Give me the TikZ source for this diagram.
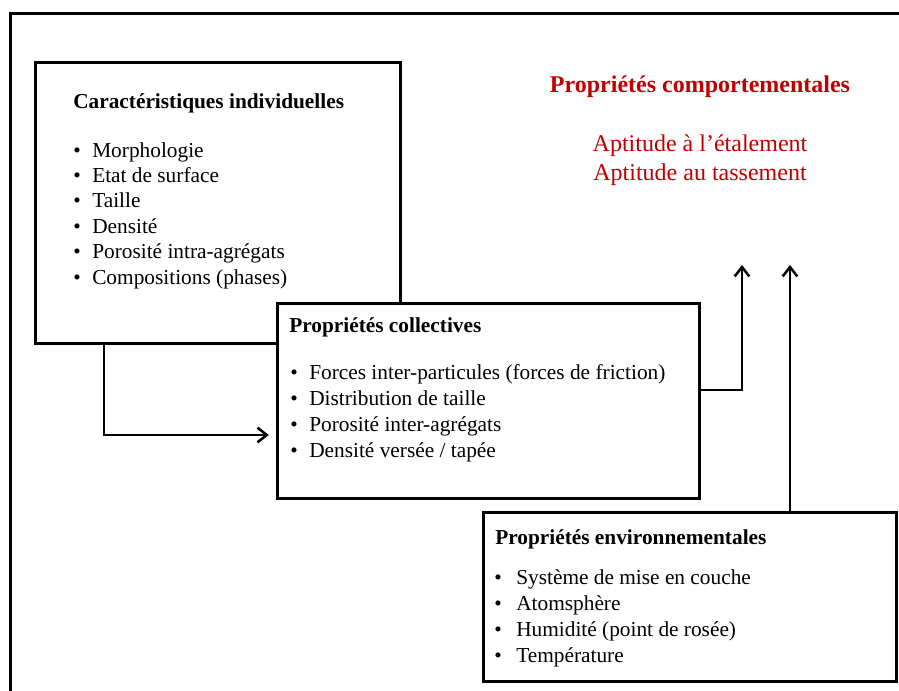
\documentclass[tikz,border=0pt]{standalone}
\usepackage{fontspec}
\setmainfont{Liberation Serif}
\usetikzlibrary{arrows.meta}
\definecolor{behavred}{RGB}{192,0,0}
\begin{document}
\begin{tikzpicture}[x=0.75pt,y=-0.75pt,
  box/.style={draw,line width=2.25pt,fill=white,inner sep=0pt},
  txt/.style={inner sep=0pt,anchor=base west,font=\fontsize{16}{19}\selectfont},
  ttl/.style={inner sep=0pt,anchor=base west,font=\fontsize{16}{19}\selectfont\bfseries},
  behav/.style={inner sep=0pt,anchor=base,text=behavred,font=\fontsize{18}{22}\selectfont},
  arr/.style={line width=1.9pt,-{Straight Barb[length=7pt,width=11pt,line width=1.9pt]}}]
\useasboundingbox (0,0) rectangle (899,690);
% outer frame
\draw[line width=2.25pt] (10,700) -- (10,13) -- (910,13);
% box 1
\node[box,minimum width=273.75pt,minimum height=210.75pt] (b1) at (217.5,202.5) {};
\node[ttl] (b1t) at (73,108) {Caractéristiques individuelles};
\foreach \t [count=\i] in {Morphologie,Etat de surface,Taille,Densité,Porosité intra-agrégats,Compositions (phases)} {
  \node[txt] (b1d\i) at (73,{157+25.4*(\i-1)}) {\textbullet};
  \node[txt] (b1i\i) at (92,{157+25.4*(\i-1)}) {\t};
}
% box 2
\node[box,minimum width=316.5pt,minimum height=146.25pt] (b2) at (488,400.5) {};
\node[ttl] (b2t) at (289,332) {Propriétés collectives};
\foreach \t [count=\i] in {Forces inter-particules (forces de friction),Distribution de taille,Porosité inter-agrégats,Densité versée / tapée} {
  \node[txt] (b2d\i) at (290,{379+26*(\i-1)}) {\textbullet};
  \node[txt] (b2i\i) at (309,{379+26*(\i-1)}) {\t};
}
% box 3
\node[box,minimum width=309.75pt,minimum height=126.75pt] (b3) at (689.5,596.5) {};
\node[ttl] (b3t) at (495,544) {Propriétés environnementales};
\foreach \t [count=\i] in {Système de mise en couche,Atomsphère,Humidité (point de rosée),Température} {
  \node[txt] (b3d\i) at (494,{584+26*(\i-1)}) {\textbullet};
  \node[txt] (b3i\i) at (516,{584+26*(\i-1)}) {\t};
}
% behaviour properties
\node[behav,font=\fontsize{18}{22}\selectfont\bfseries] (bt) at (700,92) {Propriétés comportementales};
\node[behav] (ap1) at (700,151) {Aptitude à l’étalement};
\node[behav] (ap2) at (700,180) {Aptitude au tassement};
% connectors
\coordinate (k1) at (104,435);
\coordinate (k2) at (742,390);
\coordinate (t2) at (742,265);
\coordinate (t3) at (790,265);
\draw[arr,shorten >=5pt] (k1 |- b1.south) -- (k1) -- (k1 -| b2.west);
\draw[arr] (k2 -| b2.east) -- (k2) -- (t2);
\draw[arr] (t3 |- b3.north) -- (t3);
\end{tikzpicture}
\end{document}
